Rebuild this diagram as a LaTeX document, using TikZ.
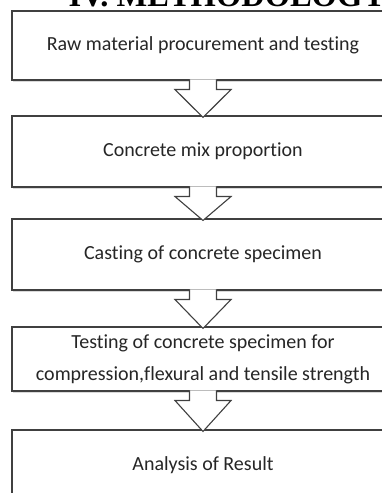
\documentclass[tikz,border=0pt]{standalone}
\usepackage{fontspec}
\setmainfont{Carlito}[Ligatures=NoCommon]
\newfontfamily\titlefont{Liberation Serif}
\usetikzlibrary{shadows}

\tikzstyle{stepbox}=[rectangle, draw=black!75, line width=1.1pt, fill=white, minimum width=382pt, text=black!85, font=\fontsize{20}{32}\selectfont, align=center, drop shadow={shadow xshift=1pt, shadow yshift=-2.5pt, opacity=0.3}]
\tikzstyle{aarrow}=[draw=black!75, line width=1.1pt, fill=white, line join=miter]

\begin{document}
\begin{tikzpicture}[x=1pt,y=1pt]
        \useasboundingbox (0,0) rectangle (382,493);
        \clip (0,0) rectangle (382,493);
        \draw (65,486) node[anchor=base west, font=\titlefont\bfseries\fontsize{32.5}{34}\selectfont](title){IV. METHODOLOGY};
        %
        \draw (203,447.5) node[stepbox, minimum height=69pt](1){Raw material procurement and testing};
        \draw (203,341.5) node[stepbox, minimum height=71pt](2){Concrete mix proportion};
        \draw (203,238.5) node[stepbox, minimum height=71pt](3){Casting of concrete specimen};
        \draw (203,134)   node[stepbox, minimum height=64pt](4){Testing of concrete specimen for\\compression,flexural and tensile strength};
        \draw (203,28)    node[stepbox, minimum height=70pt](5){Analysis of Result};
        %
        \filldraw[aarrow] ([xshift=-13.5pt,yshift=1.2pt]1.south) -- ([xshift=-13.5pt,yshift=-9pt]1.south) -- ([xshift=-28pt,yshift=-9pt]1.south) -- ([yshift=-2pt]2.north) -- ([xshift=28pt,yshift=-9pt]1.south) -- ([xshift=13.5pt,yshift=-9pt]1.south) -- ([xshift=13.5pt,yshift=1.2pt]1.south);
        \filldraw[aarrow] ([xshift=-13.5pt,yshift=1.2pt]2.south) -- ([xshift=-13.5pt,yshift=-9pt]2.south) -- ([xshift=-28pt,yshift=-9pt]2.south) -- ([yshift=-2pt]3.north) -- ([xshift=28pt,yshift=-9pt]2.south) -- ([xshift=13.5pt,yshift=-9pt]2.south) -- ([xshift=13.5pt,yshift=1.2pt]2.south);
        \filldraw[aarrow] ([xshift=-13.5pt,yshift=1.2pt]3.south) -- ([xshift=-13.5pt,yshift=-9pt]3.south) -- ([xshift=-28pt,yshift=-9pt]3.south) -- ([yshift=-2pt]4.north) -- ([xshift=28pt,yshift=-9pt]3.south) -- ([xshift=13.5pt,yshift=-9pt]3.south) -- ([xshift=13.5pt,yshift=1.2pt]3.south);
        \filldraw[aarrow] ([xshift=-13.5pt,yshift=1.2pt]4.south) -- ([xshift=-13.5pt,yshift=-9pt]4.south) -- ([xshift=-28pt,yshift=-9pt]4.south) -- ([yshift=-2pt]5.north) -- ([xshift=28pt,yshift=-9pt]4.south) -- ([xshift=13.5pt,yshift=-9pt]4.south) -- ([xshift=13.5pt,yshift=1.2pt]4.south);
\end{tikzpicture}
\end{document}
